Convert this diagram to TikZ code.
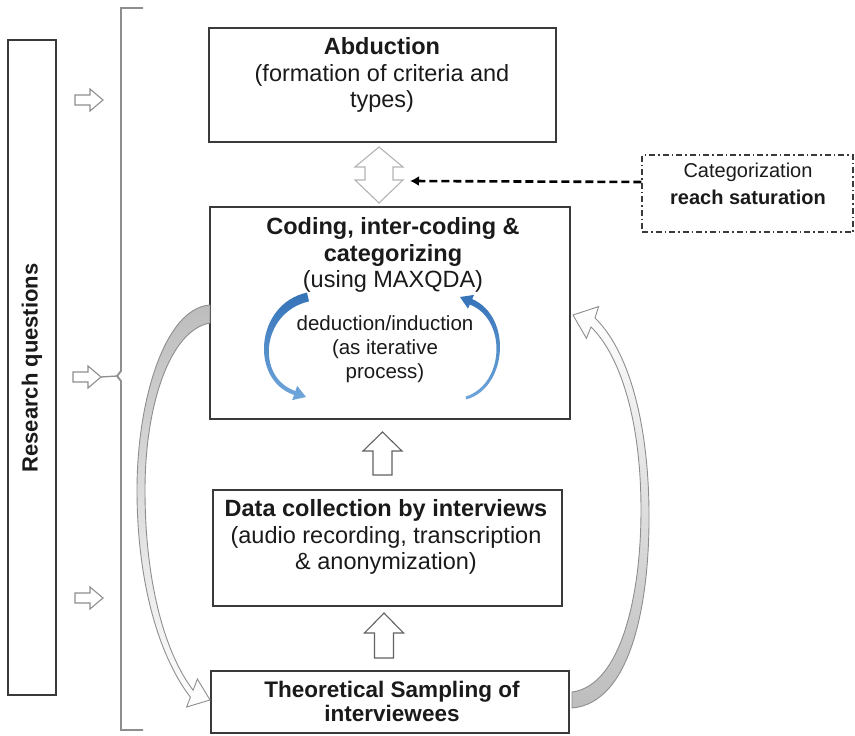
\documentclass[tikz,border=0pt]{standalone}
\usepackage{fontspec}
\setmainfont{Liberation Sans}
\usetikzlibrary{arrows.meta}
\definecolor{boxline}{HTML}{3A3A3A}
\definecolor{txt}{HTML}{1A1A1A}
\definecolor{arrowgray}{HTML}{8E8E8E}
\definecolor{lightgray}{HTML}{B4B4B4}
\definecolor{fillgray}{HTML}{BDBDBD}
\definecolor{blueDark}{HTML}{3573B8}
\definecolor{blueLight}{HTML}{6FA6DA}
\begin{document}
\begin{tikzpicture}[x=1pt,y=-1pt,
  box/.style={draw=boxline, line width=1.4pt, inner sep=0pt},
  txtb/.style={text=txt, align=center, inner sep=0pt, font=\fontsize{23.5}{26.5}\selectfont},
  txts/.style={text=txt, align=center, inner sep=0pt, font=\fontsize{20.5}{24}\selectfont},
  blk/.style={draw=arrowgray, line width=1.1pt, fill=white, line join=miter},
  blkup/.style={draw=boxline!80, line width=1.1pt, fill=white, line join=miter},
  bracketline/.style={draw=arrowgray, line width=1.8pt},
  bluearc/.style={top color=blueDark, bottom color=blueLight, draw=none},
  bigarrow/.style={draw=arrowgray, line width=0.9pt, line join=miter},
  dasharrow/.style={draw=black, line width=2.6pt, dash pattern=on 8pt off 4pt, -{Latex[length=9pt,width=10pt]}},
  dashdotbox/.style={draw=boxline, line width=1.3pt, dash pattern=on 6pt off 3pt on 1.5pt off 3pt, inner sep=0pt}
]
\useasboundingbox (0,0) rectangle (855,736);

% Research questions
\node[box, minimum width=48pt, minimum height=655pt] (rq) at (32,367.5) {};
\node[rotate=90, text=txt, inner sep=0pt, font=\fontsize{22}{24}\selectfont\bfseries] (rqT) at (32,368) {Research questions};

% small right arrows
\draw[blk, shift={(89,100)}] (-14,-5) -- (1,-5) -- (1,-11) -- (14,0) -- (1,11) -- (1,5) -- (-14,5) -- cycle;
\draw[blk, shift={(87,377)}] (-14,-5) -- (1,-5) -- (1,-11) -- (14,0) -- (1,11) -- (1,5) -- (-14,5) -- cycle;
\draw[blk, shift={(89,598)}] (-14,-5) -- (1,-5) -- (1,-11) -- (14,0) -- (1,11) -- (1,5) -- (-14,5) -- cycle;
\coordinate (rqtip) at (101,377);

% bracket
\coordinate (brTop) at (143,8);
\coordinate (brBot) at (143,730);
\coordinate (brMid) at (117,376);
\draw[bracketline] (brTop) -- (121,8) -- (121,371) -- (brMid) -- (121,381) -- (121,730) -- (brBot);
\draw[bracketline, line width=1.3pt] (rqtip) -- (brMid);

% main boxes
\node[box, minimum width=347pt, minimum height=114pt] (abd) at (382.5,85) {};
\node[box, minimum width=360pt, minimum height=212pt] (cod) at (390,313) {};
\node[box, minimum width=349pt, minimum height=116pt] (dat) at (387.5,548) {};
\node[box, minimum width=358pt, minimum height=62pt] (sam) at (390,702) {};
\node[dashdotbox, minimum width=211pt, minimum height=77pt] (cat) at (747.5,193.5) {};

% texts
\node[txtb] (abdT) at (382,75) {\textbf{Abduction}\\(formation of criteria and\\types)};
\node[txtb] (codT) at (393,255) {\textbf{Coding, inter-coding \&}\\\textbf{categorizing}\\(using MAXQDA)};
\node[txts] (dedT) at (385,349) {deduction/induction\\(as iterative\\process)};
\node[txtb] (datT) at (386,537) {\textbf{Data collection by interviews}\\(audio recording, transcription\\\& anonymization)};
\node[txtb, font=\fontsize{22.5}{24}\selectfont] (samT) at (392,701) {\textbf{Theoretical Sampling of}\\\textbf{interviewees}};
\node[text=txt, align=center, inner sep=0pt, font=\fontsize{20}{27}\selectfont] (catT) at (748,184) {Categorization\\\textbf{reach saturation}};

% double arrow between abduction and coding
\draw[blk, draw=lightgray, shift={(379,0)}] (0,147) -- (24,167) -- (14,167) -- (14,180) -- (24,180) -- (0,203) -- (-24,180) -- (-14,180) -- (-14,167) -- (-24,167) -- cycle;
\coordinate (dblR) at (410,181);

% up arrows
\draw[blkup, shift={(382.5,0)}] (0,432) -- (19.5,451) -- (9.5,451) -- (9.5,475) -- (-9.5,475) -- (-9.5,451) -- (-19.5,451) -- cycle;
\draw[blkup, shift={(384,0)}] (0,613) -- (19.5,633) -- (9.5,633) -- (9.5,658) -- (-9.5,658) -- (-9.5,633) -- (-19.5,633) -- cycle;

% dashed arrow
\draw[dasharrow] ([yshift=11.5pt]cat.west) -- (dblR);

% blue iteration arcs (tapered)
\shade[bluearc]
  (307,292.6) .. controls (255,304) and (249.5,380) .. (294,394.9)
  -- (292.2,400.1) -- (306,397) -- (297.2,385.9) -- (295.4,391.1)
  .. controls (255,377) and (261.5,312) .. (309,301.4) -- cycle;
\shade[bluearc]
  (466.4,399.4) .. controls (507,388) and (513,317) .. (472.2,299.05)
  -- (474,294.9) -- (460,297) -- (468,308.7) -- (469.8,304.55)
  .. controls (507,319) and (505,384) .. (465.6,396.6) -- cycle;

% big gray curved arrows
\shadedraw[bigarrow, top color=fillgray, bottom color=white]
  (210,305) .. controls (165,308) and (137,400) .. (137,490)
  .. controls (137,580) and (158,655) .. (190.4,697.2)
  -- (186.6,707) -- (210,700) -- (197.4,679) -- (193.1,690.2)
  .. controls (164,652) and (145,580) .. (145,490)
  .. controls (145,405) and (170,330) .. (210,323) -- cycle;
\shadedraw[bigarrow, top color=white, bottom color=fillgray]
  (572,708) .. controls (632,703) and (650,600) .. (649,510)
  .. controls (648,420) and (628,350) .. (595,318)
  -- (598.6,306.6) -- (573,315) -- (586.4,338.4) -- (591,327)
  .. controls (620,355) and (641,420) .. (641,510)
  .. controls (641,598) and (620,686) .. (572,692) -- cycle;
\end{tikzpicture}
\end{document}
